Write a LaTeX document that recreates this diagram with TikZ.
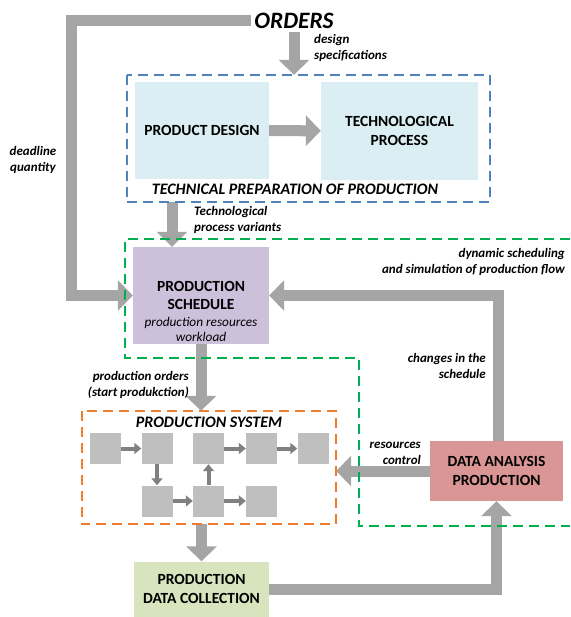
\documentclass[tikz,border=0pt]{standalone}
\usepackage{fontspec}
\setmainfont{Carlito}
\usetikzlibrary{arrows.meta, positioning}
\definecolor{flowgray}{HTML}{A5A5A5}
\definecolor{linkgray}{HTML}{808080}
\definecolor{cellgray}{HTML}{BFBFBF}
\definecolor{designblue}{HTML}{DAEEF3}
\definecolor{schedlilac}{HTML}{CCC0DA}
\definecolor{analysisrose}{HTML}{D99694}
\definecolor{collectgreen}{HTML}{D7E4BD}
\definecolor{prepblue}{HTML}{4F81BD}
\definecolor{zonegreen}{HTML}{00B050}
\definecolor{systemorange}{HTML}{ED7D31}

\begin{document}
\begin{tikzpicture}[x=1pt, y=-1pt, >=Stealth,
    box/.style={rectangle, inner sep=0pt, align=center, font=\fontsize{15.5}{19}\selectfont\bfseries},
    flow/.style={-{Triangle[width=30pt,length=15pt]}, line width=11pt, draw=flowgray},
    link/.style={-{Triangle[width=11pt,length=7pt]}, line width=4pt, draw=linkgray},
    cell/.style={rectangle, fill=cellgray, minimum size=31pt, inner sep=0pt},
    note/.style={inner sep=0pt, font=\fontsize{13}{16}\selectfont\bfseries\itshape},
    zone/.style={line width=2pt, dash pattern=on 10pt off 6pt}]
        \useasboundingbox (0,0) rectangle (570,617);
        \node (orders) at (294,21) {\fontsize{23.5}{26}\selectfont\bfseries\itshape ORDERS};
        \node (prep) [rectangle, minimum width=363pt, minimum height=127pt, inner sep=0pt] at (308.5,138.5) {};
        \node (design) [box, fill=designblue, minimum width=134pt, minimum height=97pt] at (202,130.5) {PRODUCT DESIGN};
        \node (techproc) [box, fill=designblue, minimum width=157pt, minimum height=98pt] at (399.5,131) {TECHNOLOGICAL\\PROCESS};
        \node (sched) [box, fill=schedlilac, minimum width=136pt, minimum height=97pt] at (201,295.5) {};
        \node (schedtext) [box, font=\fontsize{15.5}{18}\selectfont\bfseries] at (201,311) {PRODUCTION\\SCHEDULE\\[-1pt]{\fontsize{13.3}{15}\selectfont\mdseries\itshape production resources}\\[-3pt]{\fontsize{13.3}{15}\selectfont\mdseries\itshape workload}};
        \node (system) [rectangle, minimum width=254pt, minimum height=113pt, inner sep=0pt] at (209,467.5) {};
        \node (analysis) [box, fill=analysisrose, minimum width=133pt, minimum height=60pt] at (496.5,471) {DATA ANALYSIS\\PRODUCTION};
        \node (collect) [box, fill=collectgreen, minimum width=135pt, minimum height=55pt] at (201.5,589) {PRODUCTION\\DATA COLLECTION};

        \node (m11) [cell] at (105,448.5) {};
        \node (m12) [cell] at (157,448.5) {};
        \node (m13) [cell] at (208.5,448.5) {};
        \node (m14) [cell] at (261.5,448.5) {};
        \node (m15) [cell] at (313,448.5) {};
        \node (m22) [cell] at (157,501) {};
        \node (m23) [cell] at (208.5,501) {};
        \node (m24) [cell] at (261.5,501) {};

        \draw [link] (m11) -- (m12);
        \draw [link] (m12) -- (m22);
        \draw [link] (m22) -- (m23);
        \draw [link] (m23) -- (m13);
        \draw [link] (m13) -- (m14);
        \draw [link] (m14) -- (m15);
        \draw [link] (m23) -- (m24);

        \draw [flow] (orders.south) -- (orders.south |- prep.north);
        \draw [flow] (orders.west) -| ([xshift=-61pt]sched.west) -- (sched.west);
        \draw [flow] (design) -- (techproc);
        \draw [flow] ([xshift=-29pt]sched.north |- prep.south) -- ([xshift=-29pt]sched.north);
        \draw [flow] ([xshift=2pt]analysis.north) |- (sched.east);
        \draw [flow] (sched.south) -- (sched.south |- system.north);
        \draw [flow] (analysis.west) -- (analysis.west -| system.east);
        \draw [flow] (collect.north |- system.south) -- (collect.north);
        \draw [flow] (collect.east) -| (analysis.south);

        \draw [zone, draw=prepblue] (prep.north west) rectangle (prep.south east);
        \draw [zone, draw=systemorange] (system.north west) rectangle (system.south east);
        \draw [zone, draw=zonegreen] (570,239) -- (125,239) -- (125,358) -- (359,358) -- (359,526) -- (570,526);

        \node (preptitle) [font=\fontsize{16}{18}\selectfont\bfseries\itshape] at (295,189) {TECHNICAL PREPARATION OF PRODUCTION};
        \node (systitle) [font=\fontsize{16}{18}\selectfont\bfseries\itshape] at (209,422) {PRODUCTION SYSTEM};
        \node (specs) [note, anchor=west, align=left] at (314,48) {design\\specifications};
        \node (deadline) [note, align=center] at (33,160) {deadline\\quantity};
        \node (variants) [note, anchor=west, align=left] at (194,220) {Technological\\process variants};
        \node (dynamic) [note, anchor=east, align=right] at (565,262) {dynamic scheduling\\and simulation of production flow};
        \node (changes) [note, anchor=east, align=right] at (486,366) {changes in the\\schedule};
        \node (porders) [note, anchor=east, align=right] at (189,385) {production orders\\(start produkction)};
        \node (rescontrol) [note, anchor=east, align=right] at (421,453) {resources\\control};
    \end{tikzpicture}
\end{document}
